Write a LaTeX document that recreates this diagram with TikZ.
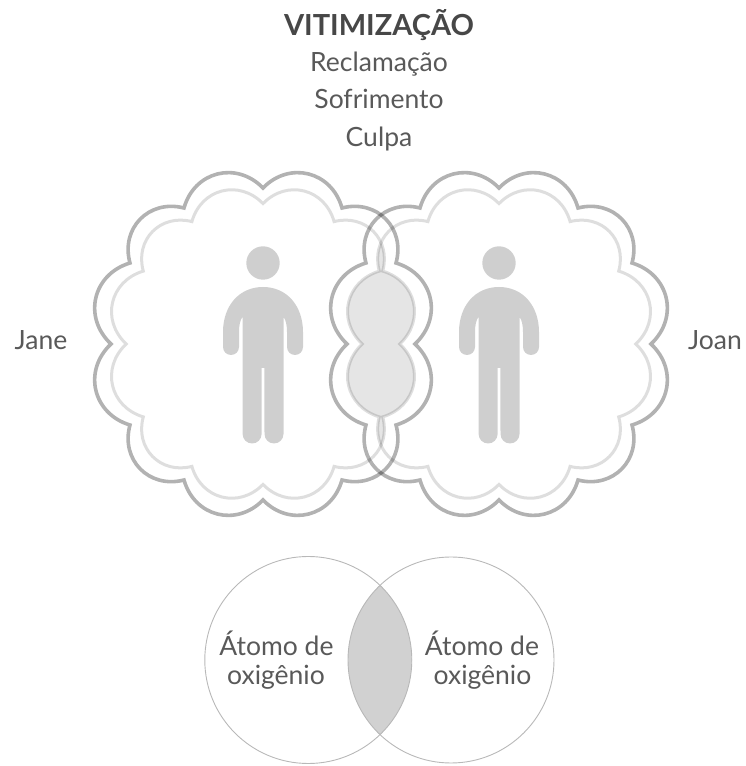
\documentclass[tikz,border=0pt]{standalone}
\usepackage{fontspec}
\setmainfont{Lato}
\def\cloudpath{(152,0) to[lobo] (133,81) to[lobo] (79,136) to[lobo] (0,156) to[lobo] (-79,136) to[lobo] (-133,81) to[lobo] (-152,0) to[lobo] (-133,-81) to[lobo] (-79,-136) to[lobo] (0,-156) to[lobo] (79,-136) to[lobo] (133,-81) to[lobo] (152,0) -- cycle}
\tikzset{
    lobo/.style={bend right=60,looseness=1.2},
    nuvemfora/.style={line width=3.6pt,draw=black,draw opacity=.3},
    nuvemdentro/.style={line width=3pt,draw=black,draw opacity=.13},
    texto/.style={text=black!65,font=\fontsize{26.5}{30}\selectfont,inner sep=0pt,anchor=base},
}
\begin{document}
\begin{tikzpicture}[x=1pt,y=1pt]

    \useasboundingbox (0,0) rectangle (745,766);

    \def\cxa{263}
    \def\cxb{499}
    \def\cy{422}

    %Intersecao
    \begin{scope}
        \clip[shift={(\cxa,\cy)},scale=.9] \cloudpath;
        \fill[black!10,shift={(\cxb,\cy)},scale=.9] \cloudpath;
    \end{scope}

    %Nuvens
    \foreach \cx in {\cxa,\cxb}{
        \draw[nuvemdentro,shift={(\cx,\cy)},scale=.9] \cloudpath;
        \draw[nuvemfora,shift={(\cx,\cy)}] \cloudpath;
    }

    %Pessoas
    \foreach \cx in {\cxa,\cxb}{
        \fill[black!19,shift={(\cx,\cy)}] (0,81) circle(16.7);
        \fill[black!19,shift={(\cx,\cy)}] (0,57) .. controls (24,57) and (40,38) .. (40,12) -- (40,-3)
            arc(0:-180:8) -- (24,12) .. controls (24,18) and (23,24) .. (20.5,27)
            -- (20.5,-90) arc(0:-180:9.5) -- (1.4,-24) -- (-1.4,-24) -- (-1.4,-90) arc(0:-180:9.5)
            -- (-20.5,27) .. controls (-23,24) and (-24,18) .. (-24,12) -- (-24,-3)
            arc(0:-180:8) -- (-40,12) .. controls (-40,38) and (-24,57) .. (0,57) -- cycle;
    }

    %Atomos
    \begin{scope}
        \clip (308.3,106) circle(103.5);
        \fill[black!18] (451,106) circle(103);
    \end{scope}
    \draw[line width=.9pt,black!28] (308.3,106) circle(103.5);
    \draw[line width=.9pt,black!28] (451,106) circle(103);

    %Textos
    \node[texto,font=\fontsize{29}{30}\selectfont\bfseries,text=black!72] (titulo) at (379,730) {VITIMIZAÇÃO};
    \node[texto] (reclamacao) at (379,694) {Reclamação};
    \node[texto] (sofrimento) at (379,657) {Sofrimento};
    \node[texto] (culpa) at (379,619) {Culpa};
    \node[texto] (jane) at (41,416) {Jane};
    \node[texto] (joan) at (715,416) {Joan};
    \node[texto] (atomoa) at (276.5,110) {Átomo de};
    \node[texto] (oxigenioa) at (276,81) {oxigênio};
    \node[texto] (atomob) at (482,110) {Átomo de};
    \node[texto] (oxigeniob) at (482.5,81) {oxigênio};

\end{tikzpicture}
\end{document}
